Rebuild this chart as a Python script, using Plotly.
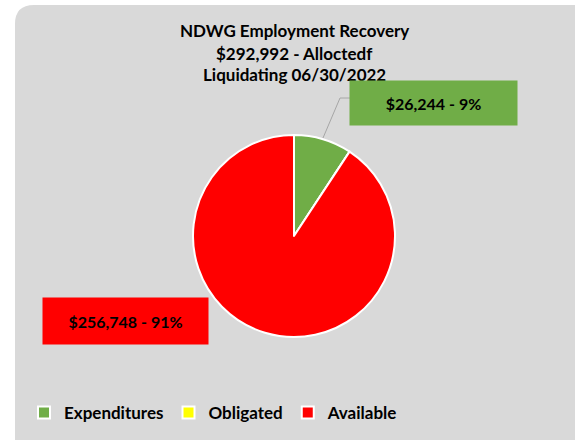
import plotly.graph_objects as go

# Data
labels = ["Expenditures", "Obligated", "Available"]
values = [26244, 0, 256748]
colors = ["#70AD47", "#FFFF00", "#FF0000"]
title_lines = ["NDWG Employment Recovery", "$292,992 - Alloctedf", "Liquidating 06/30/2022"]

W, H = 575, 440
FONT = "Lato"


def px(x):
    return x / W


def py(y):
    return 1 - y / H


total = sum(values)
box_text = [f"${v:,} - {round(v / total * 100)}%" for v in values]

fig = go.Figure(go.Pie(
    labels=labels,
    values=values,
    marker=dict(colors=colors, line=dict(color="white", width=2)),
    sort=False,
    direction="clockwise",
    rotation=0,
    textinfo="none",
    hoverinfo="label+value+percent",
    domain=dict(x=[px(193), px(395)], y=[py(338), py(134)]),
))

# white page strip on top/left, grey chart area with a rounded corner
corner_path = (f"M {px(-5)},{py(-5)} L {px(600)},{py(-5)} L {px(600)},{py(5)} L {px(34)},{py(5)} "
               f"Q {px(15)},{py(5)} {px(15)},{py(24)} L {px(15)},{py(460)} L {px(-5)},{py(460)} Z")
shapes = [
    dict(type="path", xref="paper", yref="paper", path=corner_path,
         fillcolor="white", line=dict(width=0), layer="below"),
    dict(type="path", xref="paper", yref="paper",
         path=f"M {px(323)},{py(138)} L {px(340)},{py(98)} L {px(351)},{py(98)}",
         line=dict(color="#A6A6A6", width=1)),
]

annotations = []
for line, yc in zip(title_lines, [31, 53, 75]):
    annotations.append(dict(
        text=f"<b>{line}</b>", x=px(294), y=py(yc), xref="paper", yref="paper",
        showarrow=False, xanchor="center", yanchor="middle",
        font=dict(family=FONT, size=17, color="#000000"),
    ))

# data label boxes
annotations.append(dict(
    text=f"<b>{box_text[0]}</b>", x=px(433), y=py(103), xref="paper", yref="paper",
    showarrow=False, xanchor="center", yanchor="middle", width=165, height=42,
    bgcolor=colors[0], font=dict(family=FONT, size=16, color="#000000"),
))
annotations.append(dict(
    text=f"<b>{box_text[2]}</b>", x=px(125), y=py(321), xref="paper", yref="paper",
    showarrow=False, xanchor="center", yanchor="middle", width=163, height=44,
    bgcolor=colors[2], font=dict(family=FONT, size=16, color="#000000"),
))

fig.update_layout(
    width=W, height=H,
    margin=dict(l=0, r=0, t=0, b=0),
    paper_bgcolor="#D9D9D9",
    plot_bgcolor="rgba(0,0,0,0)",
    shapes=shapes,
    annotations=annotations,
    showlegend=True,
    legend=dict(
        orientation="h", x=px(24), y=py(413), xanchor="left", yanchor="middle",
        bgcolor="rgba(0,0,0,0)", traceorder="normal",
        font=dict(family=FONT, size=17, color="#000000", weight="bold"),
    ),
)

# page body has a default 8px margin and may scroll; drop both so the figure fills the window
fig.write_html(
    "out.html",
    config={"displayModeBar": False},
    post_script=(
        "document.documentElement.style.overflow = 'hidden';"
        "document.body.style.overflow = 'hidden';"
        "document.body.style.margin = '0';"
    ),
)
